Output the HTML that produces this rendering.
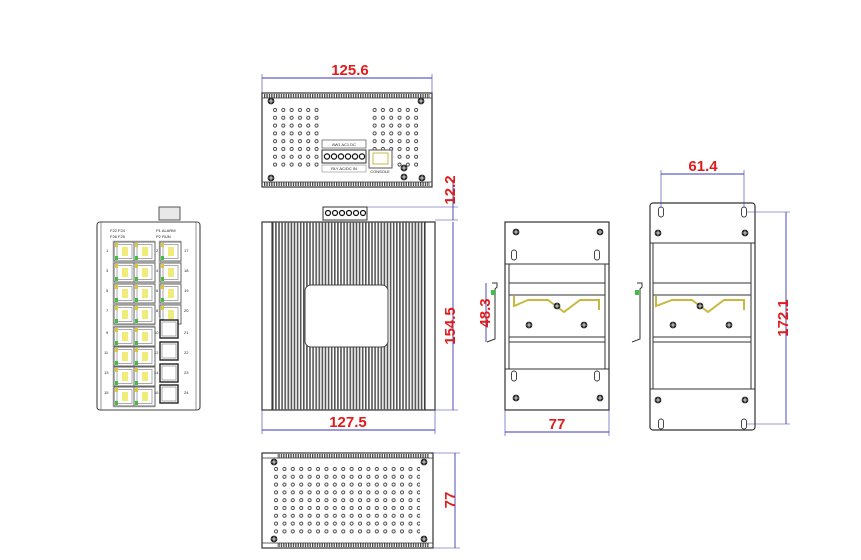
<!DOCTYPE html>
<html><head><meta charset="utf-8"><style>
html,body{margin:0;padding:0;background:#fff}
svg{display:block}
.d{fill:#e21c1c;font-family:"Liberation Sans",sans-serif;font-size:15px;font-weight:bold}
.s{font-family:"Liberation Sans",sans-serif;font-size:4px;fill:#222}
</style></head><body>
<svg width="861" height="560" viewBox="0 0 861 560" xmlns="http://www.w3.org/2000/svg">
<defs>
<pattern id="holes" x="273" y="108" width="8.3" height="7.8" patternUnits="userSpaceOnUse"><circle cx="2" cy="2" r="1.6" fill="none" stroke="#333" stroke-width="0.8"/></pattern>
<pattern id="holes2" x="274" y="467" width="8.4" height="7.8" patternUnits="userSpaceOnUse"><circle cx="2" cy="2" r="1.6" fill="none" stroke="#333" stroke-width="0.8"/></pattern>
<pattern id="fins" x="272" y="0" width="3.1" height="10" patternUnits="userSpaceOnUse"><rect x="0" y="0" width="1.6" height="10" fill="#555"/></pattern>
<pattern id="serr" x="0" y="0" width="2.4" height="4" patternUnits="userSpaceOnUse"><rect width="1.3" height="4" fill="#444"/></pattern>
<g id="scr"><circle r="3.4" fill="#222"/><path d="M-2.4 0H2.4M0 -2.4V2.4" stroke="#fff" stroke-width="0.8"/></g>
<g id="slot"><rect x="-2.5" y="-5" width="5" height="10" rx="2.5" fill="#fff" stroke="#333" stroke-width="0.9"/></g>
<g id="rj"><rect x="0" y="0" width="21" height="19" fill="#fff" stroke="#666" stroke-width="1"/><rect x="3" y="2.5" width="15" height="14" fill="none" stroke="#888" stroke-width="0.7"/><rect x="8" y="5" width="6" height="9" fill="#f0ec7a"/><rect x="1" y="1" width="3" height="4" fill="#d9c83a"/><rect x="1" y="14" width="3" height="4" fill="#3fbf3f"/></g>
<g id="sfp"><rect x="0" y="0" width="18" height="18" fill="#fff" stroke="#222" stroke-width="1.4"/><rect x="2" y="2" width="14" height="14" fill="none" stroke="#777" stroke-width="0.6"/></g>
</defs>

<!-- ===== TOP VIEW ===== -->
<line x1="262" y1="78" x2="432" y2="78" stroke="#3a3ab0" stroke-width="0.9"/>
<line x1="262" y1="74" x2="262" y2="93" stroke="#3a3ab0" stroke-width="0.6"/>
<line x1="432" y1="74" x2="432" y2="93" stroke="#3a3ab0" stroke-width="0.6"/>
<text class="d" x="350" y="75" text-anchor="middle">125.6</text>
<rect x="262" y="93" width="170" height="94" fill="#fff" stroke="#333" stroke-width="1.2"/>
<rect x="264" y="94" width="166" height="4" fill="url(#serr)"/>
<rect x="264" y="182" width="166" height="4" fill="url(#serr)"/>
<line x1="262" y1="98" x2="432" y2="98" stroke="#333" stroke-width="0.8"/>
<line x1="262" y1="182" x2="432" y2="182" stroke="#333" stroke-width="0.8"/>
<use href="#scr" x="271" y="101"/><use href="#scr" x="421" y="101"/>
<use href="#scr" x="271" y="178"/><use href="#scr" x="422" y="178"/>
<use href="#scr" x="404" y="168"/><use href="#scr" x="404" y="177"/>
<rect x="272" y="107" width="50" height="63" fill="url(#holes)"/>
<rect x="372" y="107" width="50" height="47" fill="url(#holes)"/>
<rect x="393" y="154" width="28" height="16" fill="url(#holes)"/>
<rect x="322" y="140" width="44" height="8" fill="#fff" stroke="#555" stroke-width="0.7"/>
<text class="s" x="344" y="146" text-anchor="middle">AW1 AC1 DC</text>
<rect x="322" y="150" width="44" height="13" fill="#fff" stroke="#333" stroke-width="1"/>
<g fill="#fff" stroke="#111" stroke-width="1.2">
<circle cx="327" cy="156.5" r="2.6"/><circle cx="334" cy="156.5" r="2.6"/><circle cx="341" cy="156.5" r="2.6"/><circle cx="348" cy="156.5" r="2.6"/><circle cx="355" cy="156.5" r="2.6"/><circle cx="362" cy="156.5" r="2.6"/></g>
<rect x="322" y="165" width="44" height="7" fill="none" stroke="#777" stroke-width="0.5"/>
<text class="s" x="344" y="170" text-anchor="middle">RLY AC/DC IN</text>
<rect x="369" y="150" width="23" height="18" fill="#fff" stroke="#555"/><rect x="373" y="153" width="15" height="11" fill="none" stroke="#c8b840"/>
<text class="s" x="380" y="173" text-anchor="middle">CONSOLE</text>

<!-- 12.2 dim -->
<line x1="367" y1="207" x2="458" y2="207" stroke="#3a3ab0" stroke-width="0.6"/>
<line x1="435" y1="220" x2="458" y2="220" stroke="#3a3ab0" stroke-width="0.6"/>
<line x1="453" y1="180" x2="453" y2="220" stroke="#3a3ab0" stroke-width="0.9"/>
<text class="d" transform="translate(455,190) rotate(-90)" text-anchor="middle">12.2</text>

<!-- ===== FRONT (fins) VIEW ===== -->
<rect x="323" y="207" width="44" height="13" fill="#fff" stroke="#333"/>
<g fill="#fff" stroke="#111" stroke-width="1.2">
<circle cx="328" cy="213" r="2.5"/><circle cx="335" cy="213" r="2.5"/><circle cx="342" cy="213" r="2.5"/><circle cx="349" cy="213" r="2.5"/><circle cx="356" cy="213" r="2.5"/><circle cx="363" cy="213" r="2.5"/></g>
<rect x="262" y="222" width="173" height="188" fill="#fff" stroke="#333" stroke-width="1.2"/>
<rect x="272" y="222" width="153" height="188" fill="url(#fins)"/>
<line x1="272" y1="222" x2="272" y2="410" stroke="#222"/><line x1="425" y1="222" x2="425" y2="410" stroke="#222"/>
<rect x="305" y="285" width="83" height="62" rx="6" fill="#fff" stroke="#444"/>
<line x1="453" y1="222" x2="453" y2="410" stroke="#3a3ab0" stroke-width="0.9"/>
<line x1="435" y1="410" x2="458" y2="410" stroke="#3a3ab0" stroke-width="0.6"/>
<text class="d" transform="translate(455,326) rotate(-90)" text-anchor="middle">154.5</text>
<line x1="262" y1="430" x2="435" y2="430" stroke="#3a3ab0" stroke-width="0.9"/>
<line x1="262" y1="410" x2="262" y2="434" stroke="#3a3ab0" stroke-width="0.6"/>
<line x1="435" y1="410" x2="435" y2="434" stroke="#3a3ab0" stroke-width="0.6"/>
<text class="d" x="348" y="427" text-anchor="middle">127.5</text>

<!-- ===== BOTTOM VIEW ===== -->
<rect x="262" y="453" width="171" height="95" fill="#fff" stroke="#333" stroke-width="1.2"/>
<rect x="277" y="454" width="152" height="4" fill="url(#serr)"/>
<rect x="277" y="543" width="152" height="4" fill="url(#serr)"/>
<line x1="262" y1="458" x2="433" y2="458" stroke="#333" stroke-width="0.8"/>
<line x1="262" y1="543" x2="433" y2="543" stroke="#333" stroke-width="0.8"/>
<use href="#scr" x="274" y="462"/><use href="#scr" x="424" y="462"/>
<use href="#scr" x="274" y="539"/><use href="#scr" x="424" y="539"/>
<rect x="274" y="467" width="146" height="70" fill="url(#holes2)"/>
<line x1="455" y1="453" x2="455" y2="548" stroke="#3a3ab0" stroke-width="0.9"/>
<line x1="433" y1="453" x2="460" y2="453" stroke="#3a3ab0" stroke-width="0.6"/>
<line x1="433" y1="548" x2="460" y2="548" stroke="#3a3ab0" stroke-width="0.6"/>
<text class="d" transform="translate(455,500) rotate(-90)" text-anchor="middle">77</text>

<!-- ===== PORT VIEW ===== -->
<rect x="159" y="207" width="21" height="13" fill="#e8e8e8" stroke="#555"/>
<rect x="97" y="222" width="103" height="188" rx="3" fill="#fff" stroke="#444" stroke-width="1.1"/>
<line x1="101" y1="222" x2="101" y2="410" stroke="#666" stroke-width="0.7"/>
<line x1="196" y1="222" x2="196" y2="410" stroke="#666" stroke-width="0.7"/>
<text class="s" x="110" y="232">F22 F24</text><text class="s" x="110" y="238">F26 F25</text>
<text class="s" x="156" y="232">P1 ALARM</text><text class="s" x="156" y="238">P2 RUN</text>
<rect x="113" y="241" width="42" height="84" fill="#d8d8d8" stroke="#999" stroke-width="0.5"/>
<rect x="113" y="326" width="42" height="81" fill="#d8d8d8" stroke="#999" stroke-width="0.5"/>
<rect x="159" y="241" width="22" height="76" fill="#d8d8d8" stroke="#999" stroke-width="0.5"/>
<use href="#rj" x="114" y="242"/><use href="#rj" x="134" y="242"/>
<use href="#rj" x="114" y="263"/><use href="#rj" x="134" y="263"/>
<use href="#rj" x="114" y="284"/><use href="#rj" x="134" y="284"/>
<use href="#rj" x="114" y="305"/><use href="#rj" x="134" y="305"/>
<use href="#rj" x="114" y="327"/><use href="#rj" x="134" y="327"/>
<use href="#rj" x="114" y="347"/><use href="#rj" x="134" y="347"/>
<use href="#rj" x="114" y="367"/><use href="#rj" x="134" y="367"/>
<use href="#rj" x="114" y="387"/><use href="#rj" x="134" y="387"/>
<use href="#rj" x="160" y="242"/><use href="#rj" x="160" y="263"/><use href="#rj" x="160" y="284"/><use href="#rj" x="160" y="305"/>
<use href="#sfp" x="160" y="320"/><use href="#sfp" x="160" y="342"/><use href="#sfp" x="160" y="364"/><use href="#sfp" x="160" y="385"/>
<g class="s"><text x="106" y="252">1</text><text x="106" y="272">3</text><text x="106" y="292">5</text><text x="106" y="312">7</text><text x="106" y="334">9</text><text x="104" y="354">11</text><text x="104" y="374">13</text><text x="104" y="394">15</text>
<text x="156" y="252">2</text><text x="156" y="272">4</text><text x="156" y="292">6</text><text x="156" y="312">8</text><text x="154" y="334">10</text><text x="154" y="354">12</text><text x="154" y="374">14</text><text x="154" y="394">16</text>
<text x="184" y="252">17</text><text x="184" y="272">18</text><text x="184" y="292">19</text><text x="184" y="312">20</text><text x="184" y="334">21</text><text x="184" y="354">22</text><text x="184" y="374">23</text><text x="184" y="394">24</text></g>

<!-- ===== DIN VIEW 1 ===== -->
<rect x="505" y="222" width="104" height="188" fill="#fff" stroke="#333" stroke-width="1.2"/>
<line x1="505" y1="264" x2="609" y2="264" stroke="#333"/>
<line x1="505" y1="369" x2="609" y2="369" stroke="#333"/>
<line x1="509" y1="264" x2="509" y2="369" stroke="#333"/><line x1="605" y1="264" x2="605" y2="369" stroke="#333"/>
<rect x="509" y="283" width="96" height="12" fill="#fff" stroke="#333"/>
<rect x="509" y="337" width="96" height="5" fill="#fff" stroke="#333"/>
<path d="M514 296 v10 l14 -6 h20 l16 12 h0 l16 -12 h19 v10" fill="none" stroke="#c8b840" stroke-width="2"/>
<use href="#scr" x="516" y="232"/><use href="#scr" x="600" y="232"/><use href="#scr" x="516" y="398"/><use href="#scr" x="600" y="398"/>
<use href="#scr" x="557" y="306"/><use href="#scr" x="529" y="325"/><use href="#scr" x="584" y="325"/>
<use href="#slot" x="514" y="255"/><use href="#slot" x="597" y="255"/><use href="#slot" x="514" y="376"/><use href="#slot" x="597" y="376"/>
<path d="M492 283 h5 v4 l-2 2 v50 l-8 3" fill="none" stroke="#333"/><rect x="491" y="290" width="4" height="5" fill="#3fbf3f"/>
<line x1="486" y1="283" x2="486" y2="342" stroke="#3a3ab0" stroke-width="0.9"/>
<text class="d" transform="translate(490,313) rotate(-90)" text-anchor="middle">48.3</text>
<line x1="505" y1="432" x2="609" y2="432" stroke="#3a3ab0" stroke-width="0.9"/>
<line x1="505" y1="410" x2="505" y2="436" stroke="#3a3ab0" stroke-width="0.6"/>
<line x1="609" y1="410" x2="609" y2="436" stroke="#3a3ab0" stroke-width="0.6"/>
<text class="d" x="557" y="429" text-anchor="middle">77</text>

<!-- ===== DIN VIEW 2 ===== -->
<rect x="650" y="203" width="105" height="227" rx="3" fill="#fff" stroke="#333" stroke-width="1.2"/>
<line x1="650" y1="243" x2="755" y2="243" stroke="#333"/>
<line x1="650" y1="389" x2="755" y2="389" stroke="#333"/>
<line x1="653" y1="243" x2="653" y2="389" stroke="#333"/><line x1="751" y1="243" x2="751" y2="389" stroke="#333"/>
<rect x="653" y="283" width="98" height="12" fill="#fff" stroke="#333"/>
<rect x="653" y="337" width="98" height="5" fill="#fff" stroke="#333"/>
<path d="M656 296 v10 l16 -6 h20 l16 12 l16 -12 h20 v10" fill="none" stroke="#c8b840" stroke-width="2"/>
<use href="#scr" x="658" y="233"/><use href="#scr" x="745" y="233"/><use href="#scr" x="658" y="400"/><use href="#scr" x="745" y="400"/>
<use href="#scr" x="700" y="306"/><use href="#scr" x="673" y="325"/><use href="#scr" x="729" y="325"/>
<use href="#slot" x="661" y="212"/><use href="#slot" x="744" y="212"/><use href="#slot" x="661" y="424"/><use href="#slot" x="744" y="424"/>
<path d="M637 283 h5 v4 l-2 2 v50 l-8 3" fill="none" stroke="#333"/><rect x="635" y="290" width="4" height="5" fill="#3fbf3f"/>
<line x1="661" y1="174" x2="744" y2="174" stroke="#3a3ab0" stroke-width="0.9"/>
<line x1="661" y1="170" x2="661" y2="207" stroke="#3a3ab0" stroke-width="0.6"/>
<line x1="744" y1="170" x2="744" y2="207" stroke="#3a3ab0" stroke-width="0.6"/>
<text class="d" x="703" y="171" text-anchor="middle">61.4</text>
<line x1="747" y1="212" x2="790" y2="212" stroke="#3a3ab0" stroke-width="0.6"/>
<line x1="747" y1="424" x2="790" y2="424" stroke="#3a3ab0" stroke-width="0.6"/>
<line x1="786" y1="212" x2="786" y2="424" stroke="#3a3ab0" stroke-width="0.9"/>
<text class="d" transform="translate(788,318) rotate(-90)" text-anchor="middle">172.1</text>
</svg>
</body></html>
